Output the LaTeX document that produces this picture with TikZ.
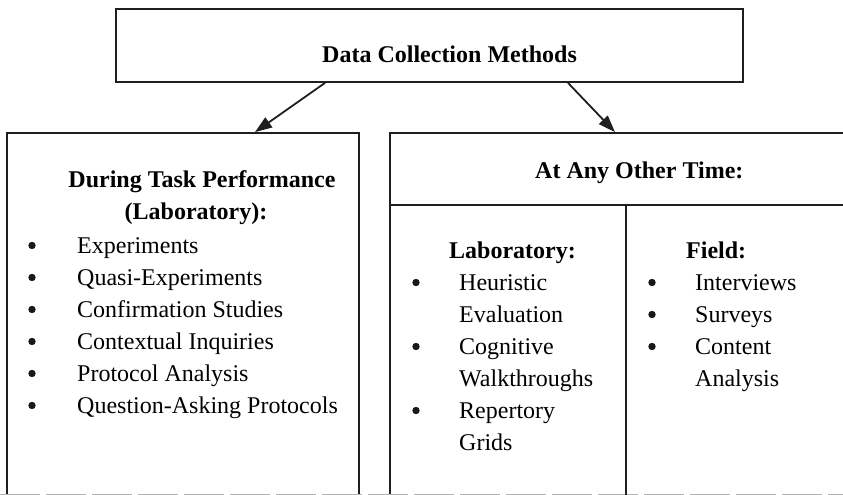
\documentclass[tikz,border=0pt]{standalone}
\usepackage{fontspec}
\setmainfont{Liberation Serif}
\usetikzlibrary{arrows.meta}
\begin{document}
\begin{tikzpicture}[x=1pt,y=-1pt,
  box/.style={draw=black!88, line width=1.8pt, rectangle, inner sep=0pt},
  arr/.style={draw=black!88, line width=1.8pt, -{Triangle[length=17pt,width=12pt]}},
  divline/.style={draw=black!88, line width=1.8pt},
  txt/.style={font=\fontsize{24}{28}\selectfont, inner sep=0pt, anchor=base west},
  head/.style={font=\fontsize{24}{28}\selectfont\bfseries, inner sep=0pt, anchor=base west},
  bul/.style={fill=black!90}]
\useasboundingbox (0,0) rectangle (843,495);
% boxes
\node[box, minimum width=627pt, minimum height=73pt] (top) at (429.5,45.5) {};
\node[box, minimum width=352pt, minimum height=364pt] (left) at (183,315) {};
\node[box, minimum width=470pt, minimum height=364pt] (right) at (625,315) {};
% faint bottom edge as in the scan
\coordinate (bl) at (0,494.2);
\coordinate (br) at (843,494.2);
\draw[black!30, line width=1pt, dash pattern=on 40pt off 6pt] (bl) -- (br);
% right box dividers
\coordinate (hdl) at (390,205);
\coordinate (hdr) at (860,205);
\draw[divline] (hdl) -- (hdr);
\coordinate (vdt) at (626,205);
\coordinate (vdb) at (626,497);
\draw[divline] (vdt) -- (vdb);
% arrows
\draw[arr] ([xshift=-104.5pt]top.south) -- ([xshift=72pt]left.north);
\draw[arr] ([xshift=138.5pt]top.south) -- ([xshift=-10pt]right.north);
% title
\node[head] (title) at (322,63) {Data Collection Methods};
% left box
\node[head, anchor=base] (lh1) at (202,187) {During Task Performance};
\node[head, anchor=base] (lh2) at (196,219) {(Laboratory):};
\foreach \t [count=\i from 0] in {Experiments,Quasi-Experiments,Confirmation Studies,Contextual Inquiries,Protocol Analysis,Question-Asking Protocols}{
  \node[txt] (li\i) at (77,253+32*\i) {\t};
  \fill[bul] (32,253+32*\i-7.5) circle (3.7pt);
}
% right box
\node[head] (rh) at (535,178) {At Any Other Time:};
\node[head] (labh) at (449,258) {Laboratory:};
\node[head] (fieldh) at (686,258) {Field:};
\foreach \t [count=\i from 0] in {Heuristic,Evaluation,Cognitive,Walkthroughs,Repertory,Grids}{
  \node[txt] (ri\i) at (459,290+32*\i) {\t};
}
\foreach \i in {0,2,4}{\fill[bul] (416,290+32*\i-7.5) circle (3.7pt);}
\foreach \t [count=\i from 0] in {Interviews,Surveys,Content,Analysis}{
  \node[txt] (fi\i) at (695,290+32*\i) {\t};
}
\foreach \i in {0,1,2}{\fill[bul] (652,290+32*\i-7.5) circle (3.7pt);}
\end{tikzpicture}
\end{document}
